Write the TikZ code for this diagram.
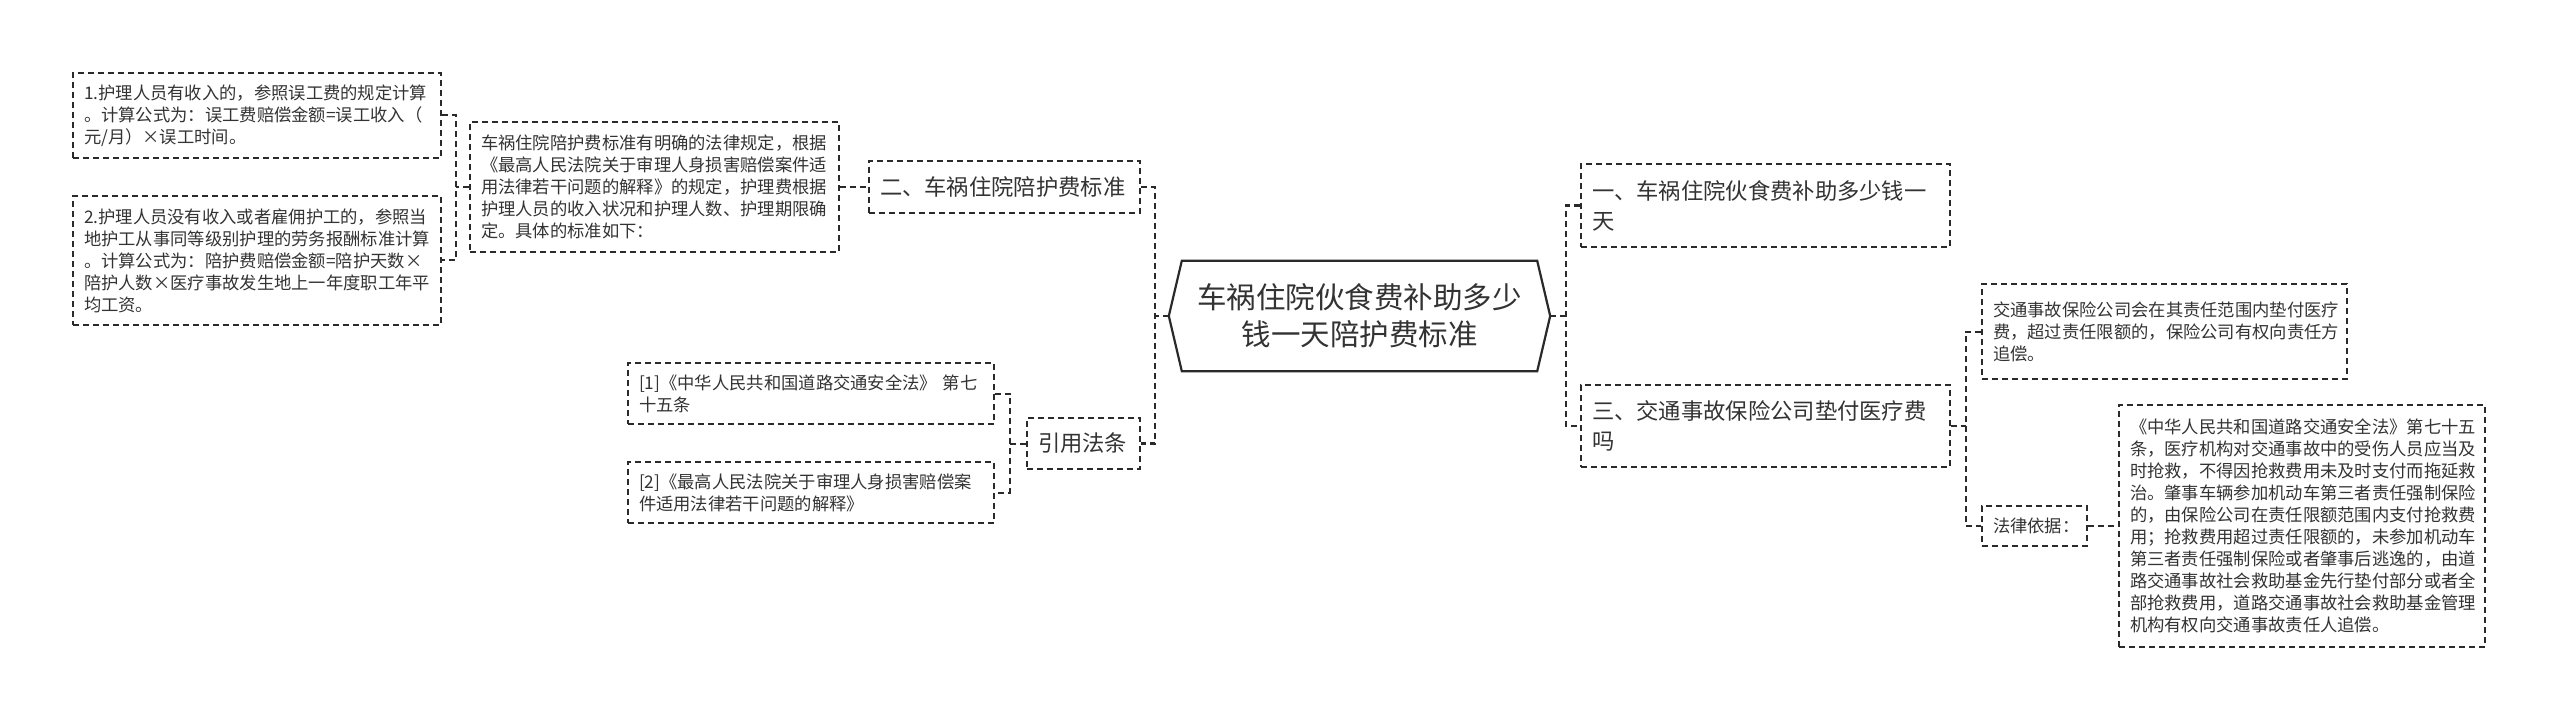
\documentclass[tikz,border=0pt]{standalone}
\usepackage{fontspec}
\newfontfamily\cjk{Noto Sans CJK SC}
\usetikzlibrary{calc}
\definecolor{txt}{HTML}{333333}
\definecolor{ln}{HTML}{2A2A2A}
\begin{document}
\begin{tikzpicture}[x=1pt,y=-1pt,
  box/.style={draw=ln, line width=1.7pt, dash pattern=on 6pt off 4pt, text=txt, align=left,
    inner xsep=11pt, inner ysep=0pt, font=\cjk\fontsize{17.3}{22}\selectfont},
  lvlone/.style={box, font=\cjk\fontsize{22.3}{30}\selectfont},
  connA/.style={draw=ln, line width=2.8pt, dash pattern=on 6pt off 4pt},
  connB/.style={draw=ln, line width=2pt, dash pattern=on 6pt off 4pt},
]
\useasboundingbox[fill=white] (0,0) rectangle (2560,722);

% root
\node[text=txt, align=center, font=\cjk\fontsize{29.5}{37}\selectfont,
  minimum width=381pt, minimum height=110pt, inner sep=0pt] (root) at (1359.5,316)
  {车祸住院伙食费补助多少\\钱一天陪护费标准};
\draw[ln, line width=2.2pt, line join=miter]
  (root.west) -- ([xshift=13pt]root.north west) -- ([xshift=-13pt]root.north east)
  -- (root.east) -- ([xshift=-13pt]root.south east) -- ([xshift=13pt]root.south west) -- cycle;

% left branch
\node[lvlone, text width=249pt, minimum height=52pt] (n2) at (1004.5,187) {二、车祸住院陪护费标准};
\node[box, text width=347pt, minimum height=130pt] (box3) at (654.5,187)
  {车祸住院陪护费标准有明确的法律规定，根据\\
   《最高人民法院关于审理人身损害赔偿案件适\\
   用法律若干问题的解释》的规定，护理费根据\\
   护理人员的收入状况和护理人数、护理期限确\\
   定。具体的标准如下：};
\node[box, text width=346pt, minimum height=85pt] (box1) at (257,115.5)
  {1.护理人员有收入的，参照误工费的规定计算\\
   。计算公式为：误工费赔偿金额=误工收入（\\
   元/月）×误工时间。};
\node[box, text width=346pt, minimum height=129pt] (box2) at (257,260.5)
  {2.护理人员没有收入或者雇佣护工的，参照当\\
   地护工从事同等级别护理的劳务报酬标准计算\\
   。计算公式为：陪护费赔偿金额=陪护天数×\\
   陪护人数×医疗事故发生地上一年度职工年平\\
   均工资。};
\node[lvlone, text width=91pt, minimum height=51pt] (yy) at (1083.5,443.5) {引用法条};
\node[box, text width=344pt, minimum height=61pt] (ref1) at (811,393.5)
  {[1]《中华人民共和国道路交通安全法》~第七\\十五条};
\node[box, text width=344pt, minimum height=61pt] (ref2) at (811,492.5)
  {[2]《最高人民法院关于审理人身损害赔偿案\\件适用法律若干问题的解释》};

% right branch
\node[lvlone, text width=347pt, minimum height=83pt] (n1) at (1765.5,205.5)
  {一、车祸住院伙食费补助多少钱一\\天};
\node[lvlone, text width=347pt, minimum height=82pt] (n3) at (1765.5,426)
  {三、交通事故保险公司垫付医疗费\\吗};
\node[box, text width=343pt, minimum height=95pt] (jt) at (2164.5,331.5)
  {交通事故保险公司会在其责任范围内垫付医疗\\
   费，超过责任限额的，保险公司有权向责任方\\
   追偿。};
\node[box, text width=83pt, minimum height=40pt] (fl) at (2034.5,526) {法律依据：};
\node[box, text width=344pt, minimum height=242pt] (big) at (2302,526)
  {《中华人民共和国道路交通安全法》第七十五\\
   条，医疗机构对交通事故中的受伤人员应当及\\
   时抢救，不得因抢救费用未及时支付而拖延救\\
   治。肇事车辆参加机动车第三者责任强制保险\\
   的，由保险公司在责任限额范围内支付抢救费\\
   用；抢救费用超过责任限额的，未参加机动车\\
   第三者责任强制保险或者肇事后逃逸的，由道\\
   路交通事故社会救助基金先行垫付部分或者全\\
   部抢救费用，道路交通事故社会救助基金管理\\
   机构有权向交通事故责任人追偿。};

% connectors, level 1
\coordinate (mL) at (1155,0);
\coordinate (mR) at (1566,0);
\draw[connA] (root.west) -- (root.west -| mL);
\draw[connA] (n2.east) -- (n2.east -| mL) -- (yy.east -| mL) -- (yy.east);
\draw[connA] (root.east) -- (root.east -| mR);
\draw[connA] (n1.west) -- (n1.west -| mR) -- (n3.west -| mR) -- (n3.west);

% connectors, level 2
\coordinate (mA) at (456,0);
\draw[connB] (box3.west) -- (box3.west -| mA);
\draw[connB] (box1.east) -- (box1.east -| mA) -- (box2.east -| mA) -- (box2.east);
\draw[connB] (box3.east) -- (n2.west);
\coordinate (mB) at (1010,0);
\draw[connB] (yy.west) -- (yy.west -| mB);
\draw[connB] (ref1.east) -- (ref1.east -| mB) -- (ref2.east -| mB) -- (ref2.east);
\coordinate (mC) at (1966,0);
\draw[connB] (n3.east) -- (n3.east -| mC);
\draw[connB] (jt.west) -- (jt.west -| mC) -- (fl.west -| mC) -- (fl.west);
\draw[connB] (fl.east) -- (big.west);
\end{tikzpicture}
\end{document}
